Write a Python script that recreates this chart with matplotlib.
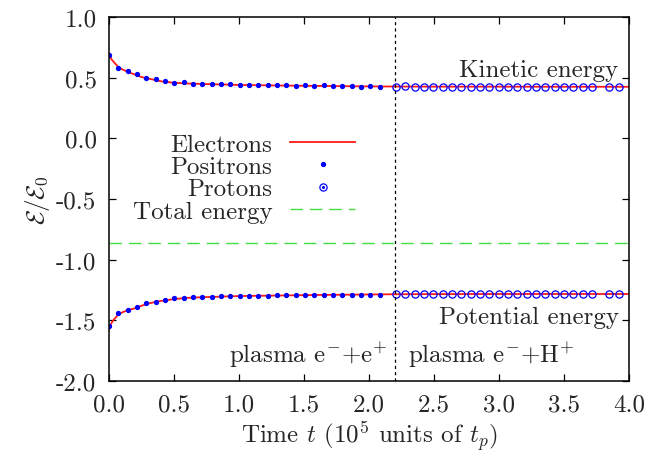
import numpy as np
import matplotlib
matplotlib.use('Agg')
from matplotlib import pyplot as plt
from matplotlib.ticker import FormatStrFormatter, MultipleLocator
from matplotlib.legend_handler import HandlerTuple

# electrons: continuous curves
elec_t = [0.0, 0.02, 0.04, 0.07, 0.1, 0.15, 0.2, 0.25, 0.3, 0.35, 0.4, 0.5, 0.6,
          0.7, 0.8, 0.9, 1.0, 1.2, 1.4, 1.6, 1.8, 2.0, 2.2, 2.5, 3.0, 3.5, 4.0]
elec_kin = [0.700, 0.650, 0.625, 0.590, 0.570, 0.545, 0.525, 0.505, 0.493, 0.482,
            0.470, 0.458, 0.452, 0.449, 0.446, 0.443, 0.440, 0.437, 0.434, 0.432,
            0.430, 0.428, 0.427, 0.426, 0.426, 0.425, 0.425]
elec_pot = [-1.575, -1.520, -1.490, -1.455, -1.435, -1.415, -1.400, -1.380, -1.362,
            -1.350, -1.340, -1.325, -1.315, -1.310, -1.307, -1.303, -1.300, -1.297,
            -1.294, -1.291, -1.289, -1.287, -1.285, -1.284, -1.283, -1.283, -1.283]

# positrons (e- + e+ plasma)
pos_t = [0.0, 0.072, 0.144, 0.215, 0.287, 0.359, 0.431, 0.503, 0.574, 0.646,
         0.718, 0.790, 0.862, 0.933, 1.005, 1.077, 1.149, 1.221, 1.292, 1.364,
         1.436, 1.508, 1.580, 1.651, 1.723, 1.795, 1.867, 1.939, 2.010, 2.082]
pos_kin = [0.683, 0.582, 0.555, 0.533, 0.500, 0.489, 0.473, 0.459, 0.461, 0.451,
           0.451, 0.451, 0.445, 0.445, 0.443, 0.440, 0.442, 0.436, 0.440, 0.437,
           0.434, 0.436, 0.432, 0.436, 0.432, 0.434, 0.430, 0.426, 0.428, 0.426]
pos_pot = [-1.549, -1.443, -1.413, -1.388, -1.358, -1.347, -1.336, -1.320, -1.314,
           -1.309, -1.309, -1.306, -1.303, -1.300, -1.303, -1.300, -1.298, -1.298,
           -1.295, -1.295, -1.292, -1.294, -1.292, -1.290, -1.292, -1.290, -1.292,
           -1.290, -1.289, -1.290]

# protons (e- + H+ plasma)
prot_t = [2.208, 2.280, 2.352, 2.423, 2.495, 2.567, 2.639, 2.711, 2.782, 2.854,
          2.926, 2.998, 3.070, 3.141, 3.213, 3.285, 3.357, 3.429, 3.500, 3.572,
          3.644, 3.715, 3.849, 3.921]
prot_kin = [0.426, 0.428, 0.426, 0.427, 0.425, 0.426, 0.427, 0.426, 0.425, 0.426,
            0.427, 0.425, 0.426, 0.427, 0.425, 0.426, 0.426, 0.427, 0.425, 0.426,
            0.426, 0.425, 0.427, 0.426]
prot_pot = [-1.286, -1.285, -1.287, -1.285, -1.286, -1.284, -1.285, -1.286, -1.284,
            -1.285, -1.284, -1.286, -1.285, -1.284, -1.286, -1.285, -1.286, -1.284,
            -1.283, -1.285, -1.286, -1.285, -1.284, -1.285]

# total energy
tot_t = [0.0, 4.0]
tot_e = [-0.86, -0.86]

t_switch = 2.2

plt.rcParams['font.family'] = ['cmr10', 'DejaVu Serif']
plt.rcParams['mathtext.fontset'] = 'cm'
plt.rcParams['axes.unicode_minus'] = False
plt.rcParams['axes.formatter.use_mathtext'] = False
txt = '#262626'
fs = 18

fig = plt.figure(figsize=(6.6, 4.56), dpi=100)
ax = fig.add_axes([109/660, 1 - 382/456, 520/660, 364/456])

l_el, = ax.plot(elec_t, elec_kin, c='#ff1a1a', lw=1.3)
ax.plot(elec_t, elec_pot, c='#ff1a1a', lw=1.3)
l_pos, = ax.plot(pos_t, pos_kin, ls='none', marker='o', ms=2.8, c='#0000ff', mec='#0000ff')
ax.plot(pos_t, pos_pot, ls='none', marker='o', ms=2.8, c='#0000ff', mec='#0000ff')
l_pr1, = ax.plot(prot_t, prot_kin, ls='none', marker='o', ms=5.2, mfc='none',
                 mec='#0000ff', mew=0.9)
ax.plot(prot_t, prot_pot, ls='none', marker='o', ms=5.2, mfc='none', mec='#0000ff', mew=0.9)
l_pr2, = ax.plot([], [], ls='none', marker='o', ms=1.2, c='#0000ff')
l_tot, = ax.plot(tot_t, tot_e, c='#44dd44', lw=1.0, ls=(0, (9, 5)))
ax.axvline(t_switch, color='black', lw=0.9, ls=(0, (2.5, 2.5)))

ax.set_xlim(0, 4.0)
ax.set_ylim(-2.0, 1.0)
ax.xaxis.set_major_locator(MultipleLocator(0.5))
ax.yaxis.set_major_locator(MultipleLocator(0.5))
ax.xaxis.set_major_formatter(FormatStrFormatter('%.1f'))
ax.yaxis.set_major_formatter(FormatStrFormatter('%.1f'))
ax.tick_params(direction='in', length=5, width=0.9, top=True, right=True,
               labelsize=fs, labelcolor=txt)
ax.tick_params(axis='x', pad=9)
ax.tick_params(axis='y', pad=9)
for s in ax.spines.values():
    s.set_linewidth(1.1)

ax.set_xlabel(r'Time $t$ ($10^5$ units of $t_p$)', fontsize=fs, color=txt, labelpad=2)
ax.set_ylabel(r'$\mathcal{E}/\mathcal{E}_0$', fontsize=fs, color=txt, labelpad=3)

ax.text(3.92, 0.51, 'Kinetic energy', ha='right', va='baseline', fontsize=fs, color=txt)
ax.text(3.92, -1.52, 'Potential energy', ha='right', va='baseline', fontsize=fs, color=txt)
ax.text(0.92, -1.845, r'plasma e$^{-}$+e$^{+}$', ha='left', va='baseline', fontsize=fs, color=txt)
ax.text(2.3, -1.845, r'plasma e$^{-}$+H$^{+}$', ha='left', va='baseline', fontsize=fs, color=txt)

leg = ax.legend([l_el, l_pos, (l_pr1, l_pr2), l_tot],
                ['Electrons', 'Positrons', 'Protons', 'Total energy'],
                handler_map={tuple: HandlerTuple(ndivide=1, pad=0)},
                loc='upper right', bbox_to_anchor=(355/660, 1 - 134/456),
                bbox_transform=fig.transFigure, frameon=False, markerfirst=False,
                fontsize=fs, handlelength=2.6, handletextpad=0.7,
                labelspacing=0.0, borderpad=0, borderaxespad=0)
for t in leg.get_texts():
    t.set_color(txt)

fig.savefig('out.png', dpi=100)
